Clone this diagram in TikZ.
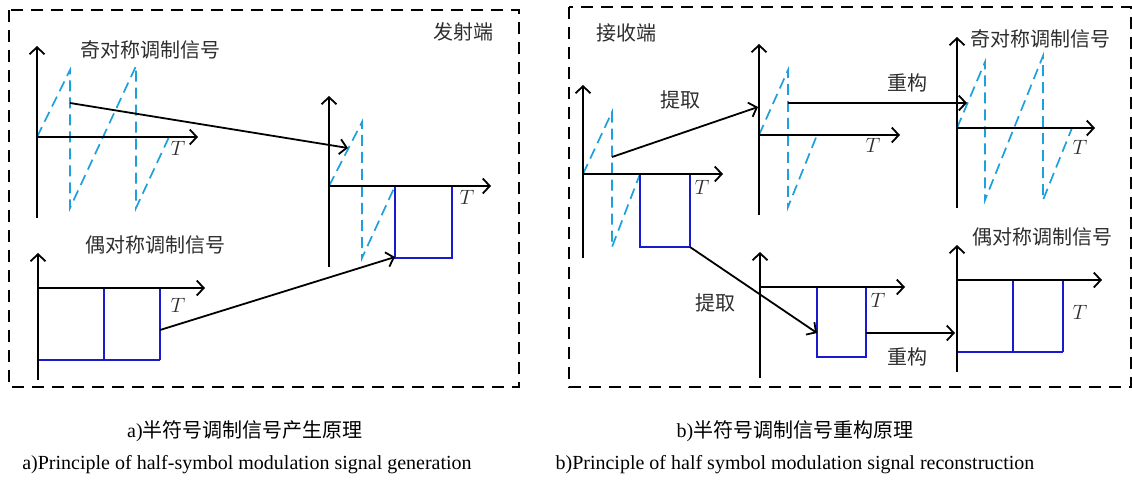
\documentclass[tikz,border=0pt]{standalone}
\usepackage{fontspec}
\setmainfont{Liberation Serif}
\newfontfamily\cjk{Noto Sans CJK SC}
\usetikzlibrary{arrows.meta}
\definecolor{cyanc}{RGB}{30,160,220}
\definecolor{bluec}{RGB}{25,25,210}
\definecolor{txtc}{RGB}{45,45,45}
\tikzset{
  axis/.style={line width=1.8pt, -{Straight Barb[length=7pt,width=15pt,line width=1.8pt]}},
  conn/.style={line width=1.8pt, -{Straight Barb[length=7pt,width=15pt,line width=1.8pt]}},
  saw/.style={cyanc, line width=1.7pt, dash pattern=on 11pt off 6pt},
  sq/.style={bluec, line width=1.9pt},
  frame/.style={line width=2pt, dash pattern=on 12pt off 8pt},
  lbl/.style={font=\cjk\fontsize{20}{22}\selectfont, text=txtc, inner sep=0pt},
  tl/.style={font=\fontsize{21}{22}\selectfont, text=txtc, inner sep=0pt},
  capzh/.style={font=\fontsize{20}{22}\selectfont, inner sep=0pt},
  capen/.style={font=\fontsize{20}{22}\selectfont, inner sep=0pt}
}
\begin{document}
\begin{tikzpicture}[x=1pt,y=-1pt]
\useasboundingbox (0,0) rectangle (1132,483);
% frames
\draw[frame] (9,10) rectangle (519,387);
\draw[frame] (569,7) rectangle (1131,387);
\node[lbl] (tx) at (463,32) {发射端};
\node[lbl] (rx) at (626,33) {接收端};

% ---------- left: odd signal ----------
\draw[saw] (37,137) -- (70,70) -- (70,208) -- (136,66) -- (136,208) -- (169,137);
\draw[axis] (37,218) -- (37,46);
\draw[axis] (37,137) -- (198,137);
\node[lbl] (a1t) at (150,50) {奇对称调制信号};
\node[tl] (a1T) at (178,148) {$T$};
\coordinate (a1out) at (70,103);

% ---------- left: even signal ----------
\draw[sq] (38,360) -- (160,360) (104,288) -- (104,360) (160,288) -- (160,360);
\draw[axis] (38,380) -- (38,253);
\draw[axis] (38,288) -- (205,288);
\node[lbl] (a2t) at (155,245) {偶对称调制信号};
\node[tl] (a2T) at (178,305) {$T$};
\coordinate (a2out) at (160,330);

% ---------- left: combined ----------
\draw[saw] (329,186) -- (362,122) -- (362,258) -- (395,186);
\draw[sq] (395,186) -- (395,258) -- (452,258) -- (452,186);
\draw[axis] (329,267) -- (329,96);
\draw[axis] (329,186) -- (491,186);
\node[tl] (a3T) at (467,197) {$T$};
\coordinate (a3in1) at (348,148);
\coordinate (a3in2) at (395,257);

\draw[conn] (a1out) -- (a3in1);
\draw[conn] (a2out) -- (a3in2);

% ---------- right: received ----------
\draw[saw] (583,174) -- (612,112) -- (612,247) -- (640,174);
\draw[sq] (640,174) -- (640,247) -- (690,247) -- (690,174);
\draw[axis] (583,258) -- (583,85);
\draw[axis] (583,174) -- (723,174);
\node[tl] (b1T) at (702,187) {$T$};
\coordinate (b1o1) at (612,157);
\coordinate (b1o2) at (690,247);

% ---------- right: odd extracted ----------
\draw[saw] (759,135) -- (788,70) -- (788,207) -- (817,135);
\draw[axis] (759,215) -- (759,44);
\draw[axis] (759,135) -- (900,135);
\node[tl] (b2T) at (873,145) {$T$};
\coordinate (b2in) at (758,107);
\coordinate (b2out) at (788,103);

% ---------- right: odd reconstructed ----------
\draw[saw] (957,128) -- (985,62) -- (985,200) -- (1043,56) -- (1043,200) -- (1072,128);
\draw[axis] (957,208) -- (957,37);
\draw[axis] (957,128) -- (1095,128);
\node[lbl] (b3t) at (1040,39) {奇对称调制信号};
\node[tl] (b3T) at (1080,147) {$T$};
\coordinate (b3in) at (967,103);

% ---------- right: even extracted ----------
\draw[sq] (817,287) -- (817,357) -- (866,357) -- (866,287);
\draw[axis] (760,378) -- (760,252);
\draw[axis] (760,287) -- (905,287);
\node[tl] (b4T) at (878,300) {$T$};
\coordinate (b4in) at (817,333);
\coordinate (b4out) at (866,333);

% ---------- right: even reconstructed ----------
\draw[sq] (957,352) -- (1063,352) (1013,280) -- (1013,352) (1063,280) -- (1063,352);
\draw[axis] (957,372) -- (957,245);
\draw[axis] (957,280) -- (1102,280);
\node[lbl] (b5t) at (1042,237) {偶对称调制信号};
\node[tl] (b5T) at (1080,312) {$T$};
\coordinate (b5in) at (955,333);

% connectors right
\draw[conn] (b1o1) -- (b2in);
\node[lbl] (ex1) at (680,100) {提取};
\draw[conn] (b1o2) -- (b4in);
\node[lbl] (ex2) at (715,303) {提取};
\draw[conn] (b2out) -- (b3in);
\node[lbl] (re1) at (907,83) {重构};
\draw[conn] (b4out) -- (b5in);
\node[lbl] (re2) at (907,357) {重构};

% captions
\node[capzh] (capa) at (245,431) {a)\cjk 半符号调制信号产生原理};
\node[capen] (capae) at (247,465) {a)Principle of half-symbol modulation signal generation};
\node[capzh] (capb) at (795,431) {b)\cjk 半符号调制信号重构原理};
\node[capen] (capbe) at (795,465) {b)Principle of half symbol modulation signal reconstruction};
\end{tikzpicture}
\end{document}
